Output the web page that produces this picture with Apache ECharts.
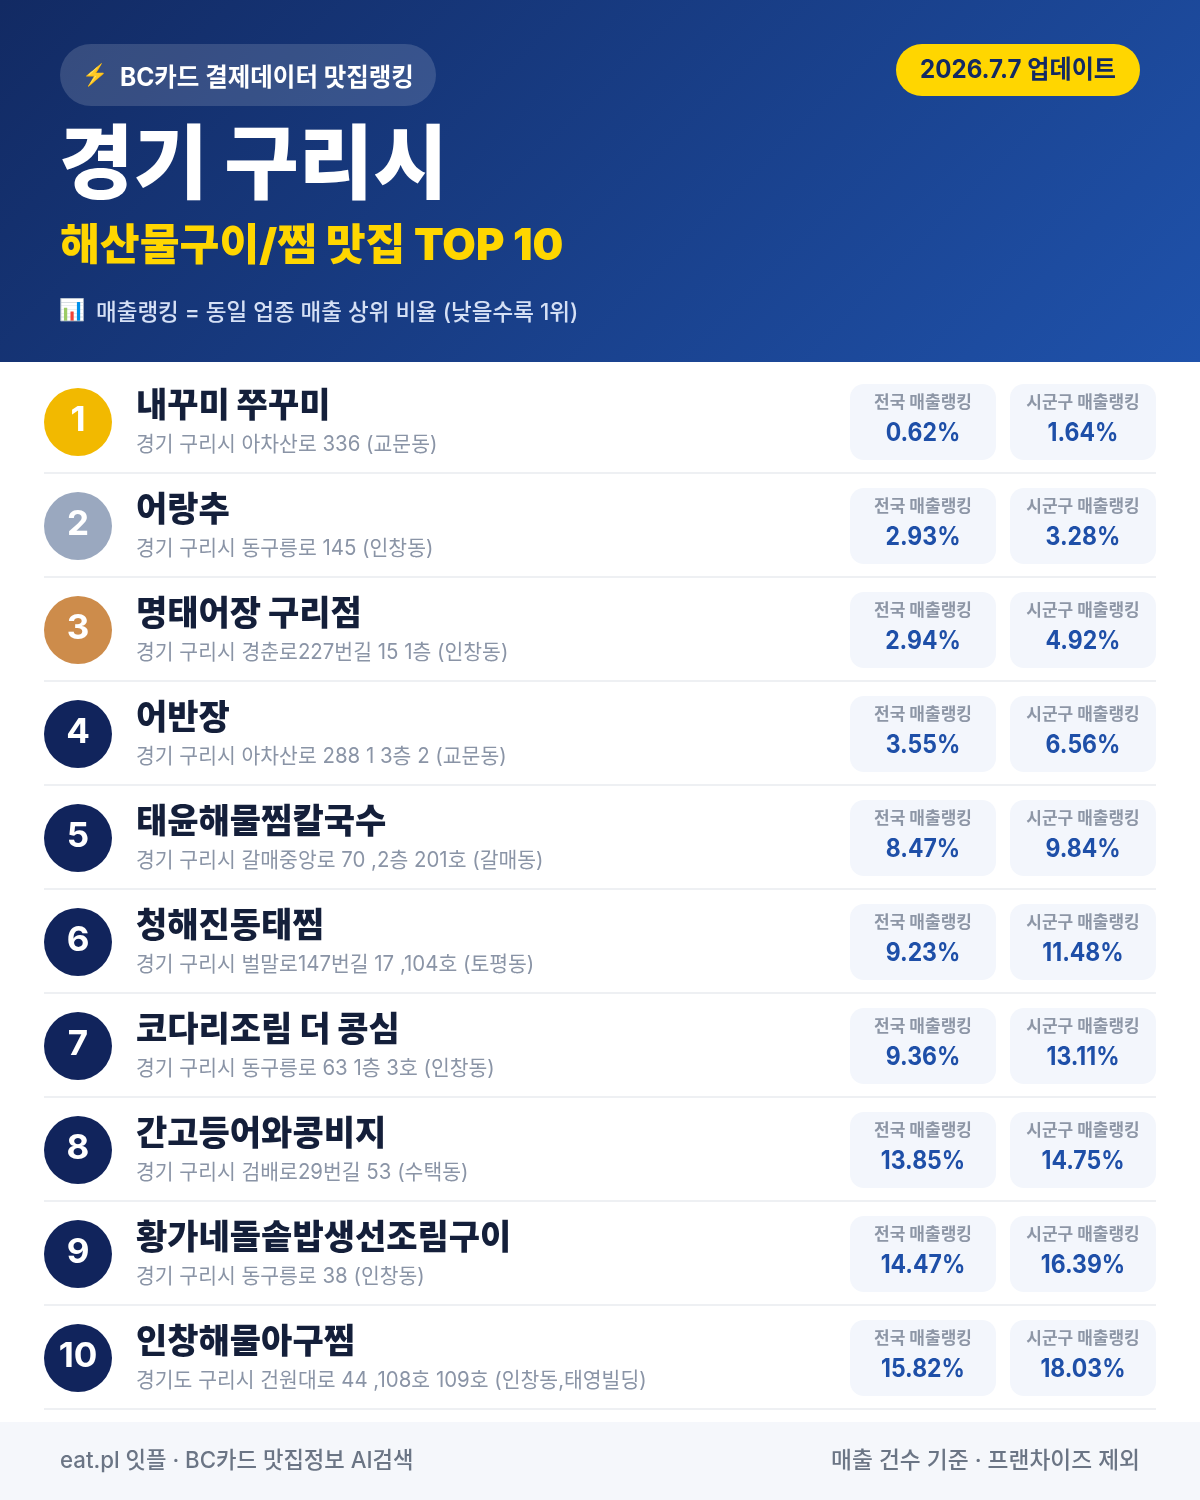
<!DOCTYPE html>
<html><head><meta charset="utf-8">
<style>html,body{margin:0;padding:0;background:#fff}#c{width:1200px;height:1500px}</style>
<script src="https://cdn.jsdelivr.net/npm/echarts@6/dist/echarts.min.js"></script>
</head><body><div id="c"></div>
<script>
const ranks = [1,2,3,4,5,6,7,8,9,10];
const names = ['내꾸미 쭈꾸미','어랑추','명태어장 구리점','어반장','태윤해물찜칼국수','청해진동태찜','코다리조림 더 콩심','간고등어와콩비지','황가네돌솥밥생선조림구이','인창해물아구찜'];
const addresses = ['경기 구리시 아차산로 336 (교문동)','경기 구리시 동구릉로 145 (인창동)','경기 구리시 경춘로227번길 15 1층 (인창동)','경기 구리시 아차산로 288 1 3층 2 (교문동)','경기 구리시 갈매중앙로 70 ,2층 201호 (갈매동)','경기 구리시 벌말로147번길 17 ,104호 (토평동)','경기 구리시 동구릉로 63 1층 3호 (인창동)','경기 구리시 검배로29번길 53 (수택동)','경기 구리시 동구릉로 38 (인창동)','경기도 구리시 건원대로 44 ,108호 109호 (인창동,태영빌딩)'];
const nationalPct = [0.62,2.93,2.94,3.55,8.47,9.23,9.36,13.85,14.47,15.82];
const districtPct = [1.64,3.28,4.92,6.56,9.84,11.48,13.11,14.75,16.39,18.03];
const labelNational = '전국 매출랭킹';
const labelDistrict = '시군구 매출랭킹';
const medalColors = ['#F2B900','#9AA8BF','#CD8C4B'];
const defaultMedal = '#11245C';
const FONT = 'Inter,"Noto Sans CJK KR",sans-serif';

const chart = echarts.init(document.getElementById('c'), null, {renderer:'canvas', width:1200, height:1500});

function txt(x,y,text,size,weight,fill,align,sx){
  return {type:'text',x:x,y:y,scaleX:sx||1,silent:true,style:{text:text,fontFamily:FONT,fontSize:size,fontWeight:weight,fill:fill,align:align||'left',verticalAlign:'middle'}};
}
function card(x,cy,label,val){
  return [
    {type:'rect',shape:{x:x,y:cy-38,width:146,height:76,r:14},style:{fill:'#F3F6FC'}},
    txt(x+73,cy-19,label,17,700,'#8D96A6','center'),
    txt(x+73,cy+11,val.toFixed(2)+'%',25,700,'#1E4FA8','center',0.92)
  ];
}
function renderRow(params,api){
  const i = api.value(1);
  const cy = api.coord([0,i])[1];
  const band = api.size([0,1])[1];
  const color = i<3 ? medalColors[i] : defaultMedal;
  const kids = [
    {type:'circle',shape:{cx:78,cy:cy,r:34},style:{fill:color}},
    txt(78,cy-1,String(ranks[i]),34,700,'#FFFFFF','center',1.03),
    txt(136,cy-15,names[i],34,900,'#141F3A'),
    txt(136,cy+23,addresses[i],21,400,'#8A94A6','left',0.973),
    ...card(850,cy,labelNational,nationalPct[i]),
    ...card(1010,cy,labelDistrict,districtPct[i]),
    {type:'rect',shape:{x:44,y:cy+band/2-2,width:1112,height:2},style:{fill:'#EEF0F3'}}
  ];
  return {type:'group',children:kids};
}

chart.setOption({
  animation:false,
  backgroundColor:'#FFFFFF',
  grid:{left:0,right:0,top:370,height:1040,containLabel:false},
  xAxis:{type:'value',min:0,max:1,show:false},
  yAxis:{type:'category',inverse:true,show:false,data:names},
  graphic:[
    {type:'rect',z:-1,shape:{x:0,y:0,width:1200,height:362},style:{fill:new echarts.graphic.LinearGradient(209.5,-209.5,990.5,571.5,[{offset:0,color:'#122A63'},{offset:1,color:'#1F52AB'}],true)}},
    {type:'rect',shape:{x:60,y:44,width:376,height:62,r:31},style:{fill:'rgba(255,255,255,0.15)'}},
    {type:'text',x:95,y:76,style:{text:'⚡',fontSize:21,fontFamily:'"Noto Color Emoji",'+FONT,align:'center',verticalAlign:'middle',fill:'#FFC83D'}},
    txt(120,78,'BC카드 결제데이터 맛집랭킹',25,700,'#FFFFFF','left',0.98),
    {type:'rect',shape:{x:896,y:44,width:244,height:52,r:26},style:{fill:'#FFD600'}},
    txt(1018,70,'2026.7.7 업데이트',25,700,'#132A63','center',0.965),
    txt(59,168,'경기 구리시',81,900,'#FFFFFF'),
    txt(60,247,'해산물구이/찜 맛집 TOP 10',43.6,900,'#FFD600','left',0.994),
    {type:'text',x:72,y:311,style:{text:'📊',fontSize:21,fontFamily:'"Noto Color Emoji",'+FONT,align:'center',verticalAlign:'middle',fill:'#fff'}},
    txt(96,313,'매출랭킹 = 동일 업종 매출 상위 비율 (낮을수록 1위)',22.5,500,'#D5E0F5','left',1),
    {type:'rect',z:-1,shape:{x:0,y:1422,width:1200,height:78},style:{fill:'#F5F7FB'}},
    txt(60,1461,'eat.pl 잇플 · BC카드 맛집정보 AI검색',22.5,500,'#6B7585','left',0.989),
    txt(1140,1461,'매출 건수 기준 · 프랜차이즈 제외',22.5,500,'#6B7585','right',1.01)
  ],
  series:[{type:'custom',coordinateSystem:'cartesian2d',clip:false,silent:true,renderItem:renderRow,
    encode:{x:0,y:1},
    data:ranks.map((r,i)=>[0,i])}]
});
</script></body></html>
